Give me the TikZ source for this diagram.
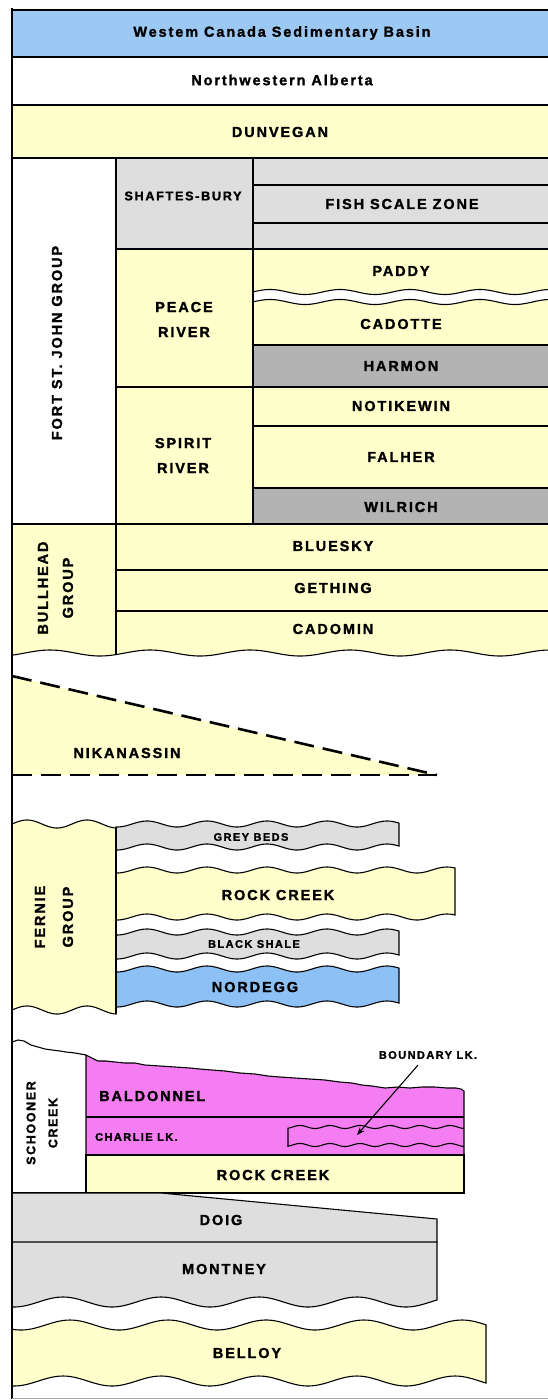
\documentclass[tikz,border=0pt]{standalone}
\usepackage{fontspec}
\setmainfont{Liberation Sans}[LetterSpace=13,FakeBold=1.5]
\usetikzlibrary{arrows.meta}
\definecolor{hblue}{HTML}{9CC8F4}
\definecolor{yel}{HTML}{FFFFCC}
\definecolor{lgray}{HTML}{DEDEDE}
\definecolor{dgray}{HTML}{B3B3B3}
\definecolor{nblue}{HTML}{8DC1F5}
\definecolor{mag}{HTML}{F47DF2}
\newcommand\wv[6]{plot[domain=#1:#2,samples=140] (\x,{#3-#4*cos((\x-#6)/#5*360)})}
\newcommand\wl[6]{-- plot[domain=#1:#2,samples=140] (\x,{#3-#4*cos((\x-#6)/#5*360)})}
\begin{document}
\begin{tikzpicture}[x=1pt,y=-1pt,
  ln/.style={line width=1.1pt},
  lab/.style={inner sep=0pt,font=\fontsize{14.5}{25}\selectfont\bfseries,align=center},
  slab/.style={inner sep=0pt,font=\fontsize{11}{13}\selectfont\bfseries},
  dsh/.style={line width=2.6pt,dash pattern=on 20pt off 9pt},
  arr/.style={line width=1.1pt,-{Stealth[length=8pt,width=6pt]}}]
\useasboundingbox (0,0) rectangle (548,1400);
\fill[white] (0,0) rectangle (548,1400);
% ---------- top rows
\fill[hblue] (12,10) rectangle (548,57);
\fill[yel] (12,105) rectangle (548,158);
% ---------- Fort St. John
\fill[lgray] (116,158) rectangle (548,249);
\fill[yel] (116,249) rectangle (548,387);
\fill[dgray] (253,345) rectangle (548,387);
\fill[yel] (116,387) rectangle (548,524);
\fill[dgray] (253,488) rectangle (548,524);
\fill[white] \wv{253}{548}{292}{2.5}{70}{270} \wl{548}{253}{302}{2.5}{70}{270} -- cycle;
% ---------- Bullhead fill
\fill[yel] (12,524) -- (548,524) \wl{548}{12}{653}{3}{100}{50} -- cycle;
% ---------- lines
\draw[ln] \wv{253}{548}{292}{2.5}{70}{270};
\draw[ln] \wv{253}{548}{302}{2.5}{70}{270};
\draw[line width=1.4pt] (12,57) -- (548,57) (12,105) -- (548,105);
\draw[ln] (12,158) -- (548,158);
\draw[ln] (253,185) -- (548,185) (253,223) -- (548,223);
\draw[ln] (116,249) -- (548,249);
\draw[ln] (253,345) -- (548,345);
\draw[ln] (116,387) -- (548,387);
\draw[ln] (253,426) -- (548,426) (253,488) -- (548,488);
\draw[ln] (12,524) -- (548,524);
\draw[ln] (116,158) -- (116,524) (253,158) -- (253,524);
\draw[ln] \wv{12}{548}{653}{3}{100}{50};
\draw[ln] (116,524) -- (116,654.6);
\draw[ln] (116,570) -- (548,570) (116,611) -- (548,611);
% ---------- Nikanassin
\fill[yel] (12,676) -- (437,775) -- (12,775) -- cycle;
\draw[dsh] (12,676) -- (437,775);
\draw[dsh] (12,775) -- (437,775);
% ---------- Fernie
\draw[ln,fill=yel] \wv{12}{116}{824}{4}{60}{147} \wl{116}{12}{1010}{4}{60}{147} -- cycle;
\draw[ln,fill=lgray] \wv{116}{399}{824}{3}{60}{147} \wl{399}{116}{847}{3}{60}{147} -- cycle;
\draw[ln,fill=yel] \wv{116}{455}{870}{3}{60}{147} \wl{455}{116}{917}{3}{60}{147} -- cycle;
\draw[ln,fill=lgray] \wv{116}{399}{932}{3}{60}{147} \wl{399}{116}{956}{3}{60}{147} -- cycle;
\draw[ln,fill=nblue] \wv{116}{399}{969}{3}{60}{147} \wl{399}{116}{1004}{3}{60}{147} -- cycle;
\draw[ln] (116,828) -- (116,1014);
% ---------- Schooner Creek
\draw[ln] plot coordinates {(12,1042) (18,1040) (24,1041) (31,1045) (38,1047) (45,1049) (52,1050) (60,1051) (66,1052) (75,1053) (86,1055)};
\draw[ln,fill=mag] (86,1193) -- (86,1055) -- plot coordinates {(86,1055) (92,1058) (98,1061) (106,1061) (115,1062) (125,1063) (135,1063) (145,1065) (160,1066) (175,1067) (190,1068) (200,1069) (212,1070) (225,1071) (240,1073) (255,1074) (268,1076) (280,1077) (295,1078) (310,1079) (325,1080) (340,1082) (352,1083) (362,1085) (372,1086) (385,1088) (398,1087) (410,1088) (422,1087) (435,1087) (447,1088) (456,1088) (461,1089) (464,1091)} -- (464,1193) -- cycle;
\draw[ln] (86,1117) -- (464,1117);
\draw[ln] \wv{464}{288}{1127}{1.5}{30}{0} \wl{288}{464}{1145}{1.5}{30}{0};
\draw[ln,fill=yel] (86,1155) rectangle (464,1193);
\draw[ln] (12,1193) -- (464,1193);
% ---------- Doig / Montney / Belloy
\fill[lgray] (12,1193) -- (161,1193) -- (437,1219) -- (437,1242) -- (12,1242) -- cycle;
\draw[ln] (12,1193) -- (161,1193) -- (437,1219) -- (437,1242);
\draw[ln,fill=lgray] (12,1242) -- (437,1242) \wl{437}{12}{1302}{5}{98}{63} -- cycle;
\draw[ln,fill=yel] \wv{12}{486}{1325}{5}{98}{70} \wl{486}{12}{1381}{5}{98}{63} -- cycle;
% ---------- frame
\draw[line width=2.6pt] (12,8) -- (12,1399);
\draw[line width=1.2pt] (12,10) -- (548,10);
\draw[black!35,line width=1pt] (12,1398) -- (548,1398);
% ---------- labels
\node[lab] (hdr) at (282,33) {Westem Canada Sedimentary Basin};
\node[lab] (nwa) at (282,80) {Northwestern Alberta};
\node[lab] (dun) at (280,132) {DUNVEGAN};
\node[lab,rotate=90] (fsj) at (57,343) {FORT ST. JOHN GROUP};
\node[lab,font=\fontsize{12.7}{15}\selectfont\bfseries] (sha) at (183,196) {SHAFTES-BURY};
\node[lab] (fsz) at (402,204) {FISH SCALE ZONE};
\node[lab] (pad) at (401,271) {PADDY};
\node[lab] (cad) at (401,324) {CADOTTE};
\node[lab] (har) at (401,366) {HARMON};
\node[lab] (pea) at (184,319.5) {PEACE\\RIVER};
\node[lab] (spi) at (183,455.5) {SPIRIT\\RIVER};
\node[lab] (not) at (401,406) {NOTIKEWIN};
\node[lab] (fal) at (401,457) {FALHER};
\node[lab] (wil) at (401,507) {WILRICH};
\node[lab] (blu) at (333,546) {BLUESKY};
\node[lab] (get) at (333,588) {GETHING};
\node[lab] (cdm) at (333,629) {CADOMIN};
\node[lab,rotate=90] (bul) at (55.5,588) {BULLHEAD\\GROUP};
\node[lab] (nik) at (127,753) {NIKANASSIN};
\node[slab] (gre) at (251,837) {GREY BEDS};
\node[lab] (rc1) at (278,895) {ROCK CREEK};
\node[slab] (bla) at (254,944) {BLACK SHALE};
\node[lab] (nor) at (255,987) {NORDEGG};
\node[lab,rotate=90,font=\fontsize{14.5}{28}\selectfont\bfseries] (fer) at (54,917) {FERNIE\\GROUP};
\node[lab,rotate=90,font=\fontsize{12.5}{22}\selectfont\bfseries] (sch) at (42,1123) {SCHOONER\\CREEK};
\node[slab] (bdy) at (428,1055) {BOUNDARY LK.};
\node[lab,anchor=west] (bal) at (99,1096) {BALDONNEL};
\node[slab,anchor=west] (cha) at (95,1137) {CHARLIE LK.};
\node[lab] (rc2) at (273,1175) {ROCK CREEK};
\node[lab] (doi) at (221,1220) {DOIG};
\node[lab] (mon) at (224,1269) {MONTNEY};
\node[lab] (bel) at (247,1353) {BELLOY};
\coordinate (bdytip) at (357,1135);
\draw[arr] ([shift={(-10,6)}]bdy.south) -- (bdytip);
\end{tikzpicture}
\end{document}
